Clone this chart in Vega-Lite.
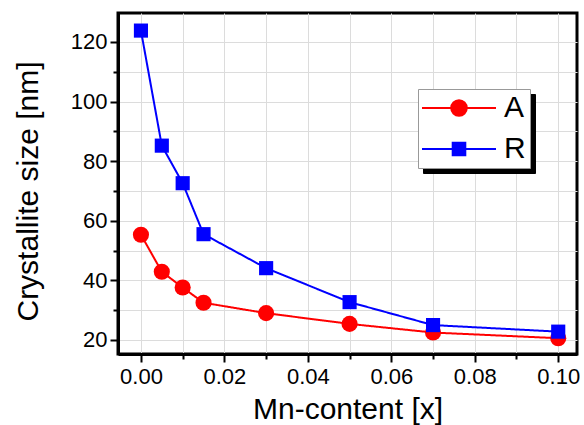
{
  "$schema": "https://vega.github.io/schema/vega-lite/v6.json",
  "width": 459,
  "height": 341,
  "autosize": "none",
  "padding": {"left": 118, "top": 13, "right": 7, "bottom": 71},
  "background": "white",
  "config": {
    "font": "Liberation Sans",
    "view": {"stroke": "black", "strokeWidth": 3}
  },
  "data": {
    "values": [
      {"x": 0.0, "size": 55.3, "series": "A"},
      {"x": 0.005, "size": 42.9, "series": "A"},
      {"x": 0.01, "size": 37.6, "series": "A"},
      {"x": 0.015, "size": 32.5, "series": "A"},
      {"x": 0.03, "size": 29.0, "series": "A"},
      {"x": 0.05, "size": 25.4, "series": "A"},
      {"x": 0.07, "size": 22.5, "series": "A"},
      {"x": 0.1, "size": 20.6, "series": "A"},
      {"x": 0.0, "size": 123.8, "series": "R"},
      {"x": 0.005, "size": 85.2, "series": "R"},
      {"x": 0.01, "size": 72.6, "series": "R"},
      {"x": 0.015, "size": 55.5, "series": "R"},
      {"x": 0.03, "size": 44.1, "series": "R"},
      {"x": 0.05, "size": 32.7, "series": "R"},
      {"x": 0.07, "size": 25.0, "series": "R"},
      {"x": 0.1, "size": 22.8, "series": "R"}
    ]
  },
  "encoding": {
    "x": {
      "field": "x",
      "type": "quantitative",
      "scale": {"domain": [-0.0055, 0.1045], "nice": false, "zero": false},
      "axis": {
        "values": [0, 0.01, 0.02, 0.03, 0.04, 0.05, 0.06, 0.07, 0.08, 0.09, 0.1],
        "labelExpr": "round(datum.value*100)%2==0 ? format(datum.value,'.2f') : ''",
        "tickSize": {"condition": {"test": "round(datum.value*100)%2==0", "value": 8}, "value": 5},
        "tickWidth": 2,
        "tickColor": "black",
        "domainColor": "black",
        "domainWidth": 3,
        "grid": true,
        "gridColor": "#dcdcdc",
        "gridWidth": 1,
        "labelFontSize": 22,
        "labelColor": "black",
        "labelPadding": 4,
        "labelFlush": false,
        "labelOverlap": false,
        "title": "Mn-content [x]",
        "titleFontSize": 30,
        "titleFontWeight": "normal",
        "titleColor": "black",
        "titlePadding": 7
      }
    },
    "y": {
      "field": "size",
      "type": "quantitative",
      "scale": {"domain": [15.3, 129.7], "nice": false, "zero": false},
      "axis": {
        "values": [20, 30, 40, 50, 60, 70, 80, 90, 100, 110, 120],
        "labelExpr": "datum.value % 20 == 0 ? datum.value : ''",
        "tickSize": {"condition": {"test": "datum.value % 20 == 0", "value": 8}, "value": 5},
        "tickWidth": 2,
        "tickColor": "black",
        "domainColor": "black",
        "domainWidth": 3,
        "grid": true,
        "gridColor": "#dcdcdc",
        "gridWidth": 1,
        "labelFontSize": 22,
        "labelColor": "black",
        "labelPadding": 3,
        "labelFlush": false,
        "labelOverlap": false,
        "title": "Crystallite size [nm]",
        "titleFontSize": 30,
        "titleFontWeight": "normal",
        "titleColor": "black",
        "titlePadding": 27,
        "titleY": 178
      }
    }
  },
  "layer": [
    {
      "mark": {"type": "line", "strokeWidth": 2},
      "encoding": {
        "color": {
          "field": "series",
          "type": "nominal",
          "scale": {"domain": ["A", "R"], "range": ["#ff0000", "#0000ff"]},
          "legend": {
            "orient": "none",
            "legendX": 300,
            "legendY": 76,
            "zindex": 2,
            "title": null,
            "fillColor": "white",
            "strokeColor": "#999999",
            "padding": 4,
            "labelFontSize": 30,
            "labelColor": "black",
            "labelOffset": 30,
            "symbolOffset": 22,
            "rowPadding": 11,
            "symbolSize": 400,
            "symbolStrokeWidth": 2,
            "symbolType": "M-1,0H1",
            "encode": {
              "symbols": {
                "update": {
                  "shape": {"signal": "datum.value === 'A' ? 'M-3.7,0H3.7M-0.78,0A0.78,0.78,0,1,0,0.78,0A0.78,0.78,0,1,0,-0.78,0Z' : 'M-3.7,0H3.7M-0.63,-0.63H0.63V0.63H-0.63Z'"},
                  "fill": {"signal": "datum.value === 'A' ? '#ff0000' : '#0000ff'"},
                  "stroke": {"signal": "datum.value === 'A' ? '#ff0000' : '#0000ff'"},
                  "strokeWidth": {"value": 2},
                  "opacity": {"value": 1},
                  "fillOpacity": {"value": 1},
                  "size": {"value": 400}
                }
              }
            }
          }
        },
        "strokeDash": {
          "field": "series",
          "type": "nominal",
          "scale": {"domain": ["R", "A"], "range": [[1, 0], [1, 0]]},
          "legend": {
            "orient": "none",
            "legendX": 305,
            "legendY": 81,
            "zindex": 1,
            "title": null,
            "fillColor": "black",
            "strokeColor": "black",
            "padding": 4,
            "labelFontSize": 30,
            "labelColor": "black",
            "labelExpr": "''",
            "labelOffset": 52,
            "symbolOffset": 22,
            "rowPadding": 11,
            "symbolSize": 400,
            "symbolStrokeWidth": 2,
            "symbolType": "M-1,0H1",
            "encode": {
              "symbols": {
                "update": {
                  "shape": {"value": "M-3.7,0H3.7M-0.78,0A0.78,0.78,0,1,0,0.78,0A0.78,0.78,0,1,0,-0.78,0Z"},
                  "fill": {"value": "black"},
                  "stroke": {"value": "black"},
                  "strokeWidth": {"value": 2},
                  "strokeDash": {"value": [1, 0]},
                  "opacity": {"value": 1},
                  "size": {"value": 400}
                }
              }
            }
          }
        }
      }
    },
    {
      "transform": [{"filter": "datum.series === 'A'"}],
      "mark": {"type": "point", "filled": true, "opacity": 1, "shape": "circle", "size": 260, "color": "#ff0000"}
    },
    {
      "transform": [{"filter": "datum.series === 'R'"}],
      "mark": {"type": "point", "filled": true, "opacity": 1, "shape": "square", "size": 200, "color": "#0000ff"}
    }
  ]
}
